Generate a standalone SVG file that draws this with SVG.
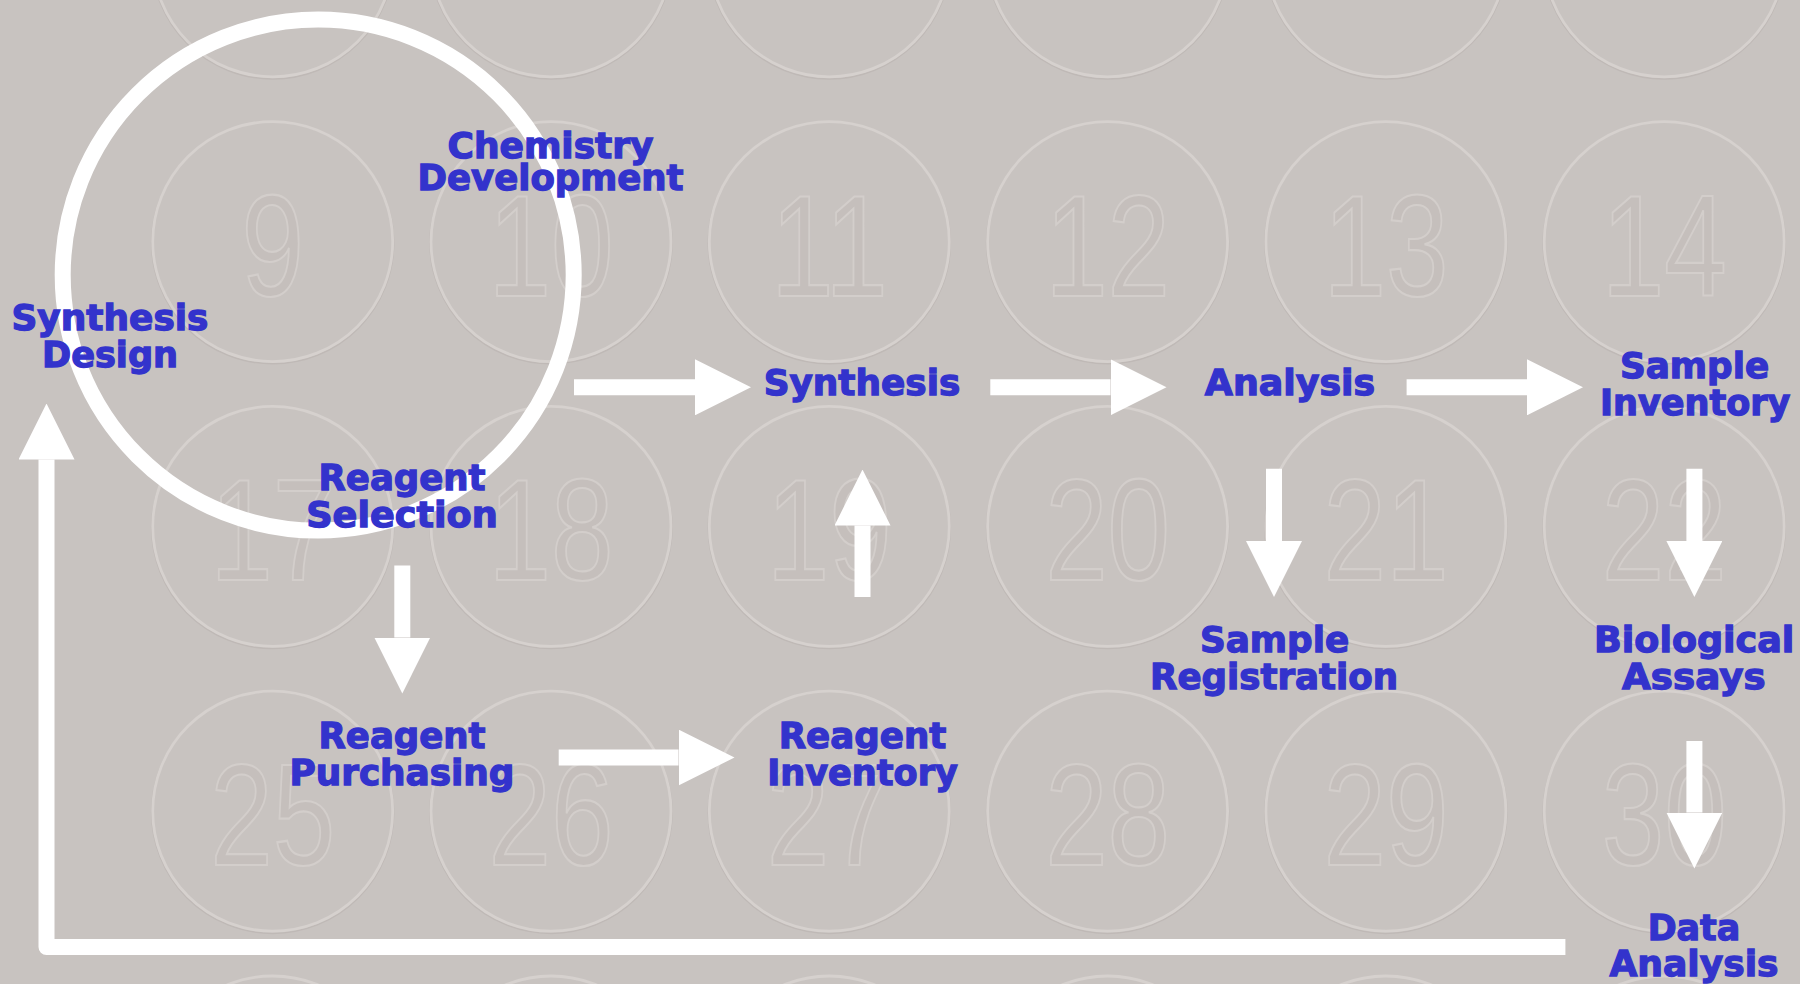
<svg xmlns="http://www.w3.org/2000/svg" width="1800" height="984" viewBox="0 0 1800 984">
  <defs>
    <style>
      .bgc { fill: none; stroke: #d6d1ce; stroke-width: 2.8; }
      .bgs { fill: none; stroke: #bfb9b6; stroke-width: 1.5; }
      .num { font-family: "Liberation Sans", Arial, sans-serif; font-size: 144px; fill: #c5bfbc; stroke: #d3cecb; stroke-width: 2.2; text-anchor: middle; }
      .lbl { font-family: "DejaVu Sans", "Liberation Sans", sans-serif; font-weight: bold; font-size: 36px; fill: #3333cc; stroke: #3333cc; stroke-width: 1.3; text-anchor: middle; }
      .conn { fill: none; stroke: #ffffff; stroke-width: 16; }
      .ring { fill: none; stroke: #ffffff; stroke-width: 16; }
    </style>
    <marker id="head" markerUnits="userSpaceOnUse" viewBox="0 0 56 56" refX="0" refY="28" markerWidth="56" markerHeight="56" orient="auto">
      <path d="M0,0 L56,28 L0,56 Z" fill="#ffffff"/>
    </marker>
  </defs>

  <rect x="0" y="0" width="1800" height="984" fill="#c8c3c0"/>

  <g id="plate-background">
    <g id="plate-wells">
      <circle class="bgs" cx="272.7" cy="-42" r="121"/><circle class="bgc" cx="272.7" cy="-43.2" r="120"/>
      <circle class="bgs" cx="551" cy="-42" r="121"/><circle class="bgc" cx="551" cy="-43.2" r="120"/>
      <circle class="bgs" cx="829.3" cy="-42" r="121"/><circle class="bgc" cx="829.3" cy="-43.2" r="120"/>
      <circle class="bgs" cx="1107.6" cy="-42" r="121"/><circle class="bgc" cx="1107.6" cy="-43.2" r="120"/>
      <circle class="bgs" cx="1385.9" cy="-42" r="121"/><circle class="bgc" cx="1385.9" cy="-43.2" r="120"/>
      <circle class="bgs" cx="1664.2" cy="-42" r="121"/><circle class="bgc" cx="1664.2" cy="-43.2" r="120"/>

      <circle class="bgs" cx="272.7" cy="242.8" r="121"/><circle class="bgc" cx="272.7" cy="241.6" r="120"/>
      <circle class="bgs" cx="551" cy="242.8" r="121"/><circle class="bgc" cx="551" cy="241.6" r="120"/>
      <circle class="bgs" cx="829.3" cy="242.8" r="121"/><circle class="bgc" cx="829.3" cy="241.6" r="120"/>
      <circle class="bgs" cx="1107.6" cy="242.8" r="121"/><circle class="bgc" cx="1107.6" cy="241.6" r="120"/>
      <circle class="bgs" cx="1385.9" cy="242.8" r="121"/><circle class="bgc" cx="1385.9" cy="241.6" r="120"/>
      <circle class="bgs" cx="1664.2" cy="242.8" r="121"/><circle class="bgc" cx="1664.2" cy="241.6" r="120"/>

      <circle class="bgs" cx="272.7" cy="527.6" r="121"/><circle class="bgc" cx="272.7" cy="526.4" r="120"/>
      <circle class="bgs" cx="551" cy="527.6" r="121"/><circle class="bgc" cx="551" cy="526.4" r="120"/>
      <circle class="bgs" cx="829.3" cy="527.6" r="121"/><circle class="bgc" cx="829.3" cy="526.4" r="120"/>
      <circle class="bgs" cx="1107.6" cy="527.6" r="121"/><circle class="bgc" cx="1107.6" cy="526.4" r="120"/>
      <circle class="bgs" cx="1385.9" cy="527.6" r="121"/><circle class="bgc" cx="1385.9" cy="526.4" r="120"/>
      <circle class="bgs" cx="1664.2" cy="527.6" r="121"/><circle class="bgc" cx="1664.2" cy="526.4" r="120"/>

      <circle class="bgs" cx="272.7" cy="812.4" r="121"/><circle class="bgc" cx="272.7" cy="811.2" r="120"/>
      <circle class="bgs" cx="551" cy="812.4" r="121"/><circle class="bgc" cx="551" cy="811.2" r="120"/>
      <circle class="bgs" cx="829.3" cy="812.4" r="121"/><circle class="bgc" cx="829.3" cy="811.2" r="120"/>
      <circle class="bgs" cx="1107.6" cy="812.4" r="121"/><circle class="bgc" cx="1107.6" cy="811.2" r="120"/>
      <circle class="bgs" cx="1385.9" cy="812.4" r="121"/><circle class="bgc" cx="1385.9" cy="811.2" r="120"/>
      <circle class="bgs" cx="1664.2" cy="812.4" r="121"/><circle class="bgc" cx="1664.2" cy="811.2" r="120"/>

      <circle class="bgc" cx="272.7" cy="1096" r="120"/>
      <circle class="bgc" cx="551" cy="1096" r="120"/>
      <circle class="bgc" cx="829.3" cy="1096" r="120"/>
      <circle class="bgc" cx="1107.6" cy="1096" r="120"/>
      <circle class="bgc" cx="1385.9" cy="1096" r="120"/>
      <circle class="bgc" cx="1664.2" cy="1096" r="120"/>
    </g>
    <g id="plate-numbers">
      <text class="num" transform="matrix(0.78 0 0 1 272.7 296)">9</text>
      <text class="num" transform="matrix(0.78 0 0 1 551 296)">10</text>
      <text class="num" transform="matrix(0.78 0 0 1 829.3 296)">11</text>
      <text class="num" transform="matrix(0.78 0 0 1 1107.6 296)">12</text>
      <text class="num" transform="matrix(0.78 0 0 1 1385.9 296)">13</text>
      <text class="num" transform="matrix(0.78 0 0 1 1664.2 296)">14</text>

      <text class="num" transform="matrix(0.78 0 0 1 272.7 580)">17</text>
      <text class="num" transform="matrix(0.78 0 0 1 551 580)">18</text>
      <text class="num" transform="matrix(0.78 0 0 1 829.3 580)">19</text>
      <text class="num" transform="matrix(0.78 0 0 1 1107.6 580)">20</text>
      <text class="num" transform="matrix(0.78 0 0 1 1385.9 580)">21</text>
      <text class="num" transform="matrix(0.78 0 0 1 1664.2 580)">22</text>

      <text class="num" transform="matrix(0.78 0 0 1 272.7 865)">25</text>
      <text class="num" transform="matrix(0.78 0 0 1 551 865)">26</text>
      <text class="num" transform="matrix(0.78 0 0 1 829.3 865)">27</text>
      <text class="num" transform="matrix(0.78 0 0 1 1107.6 865)">28</text>
      <text class="num" transform="matrix(0.78 0 0 1 1385.9 865)">29</text>
      <text class="num" transform="matrix(0.78 0 0 1 1664.2 865)">30</text>
    </g>
  </g>

  <g id="design-cycle">
    <circle class="ring" cx="318.2" cy="275.1" r="255.5"/>
  </g>

  <g id="connectors">
    <line class="conn" x1="574" y1="387.3" x2="695" y2="387.3" marker-end="url(#head)"/>
    <line class="conn" x1="990.3" y1="387.3" x2="1110.5" y2="387.3" marker-end="url(#head)"/>
    <line class="conn" x1="1406.6" y1="387.3" x2="1527" y2="387.3" marker-end="url(#head)"/>
    <line class="conn" x1="558.7" y1="757.5" x2="678.5" y2="757.5" marker-end="url(#head)"/>
    <line class="conn" x1="402.3" y1="565.5" x2="402.3" y2="637.5" marker-end="url(#head)"/>
    <line class="conn" x1="1274" y1="468.8" x2="1274" y2="541" marker-end="url(#head)"/>
    <line class="conn" x1="1694.4" y1="468.8" x2="1694.4" y2="541" marker-end="url(#head)"/>
    <line class="conn" x1="1694.4" y1="741" x2="1694.4" y2="812.5" marker-end="url(#head)"/>
    <line class="conn" x1="862.5" y1="597" x2="862.5" y2="525.5" marker-end="url(#head)"/>
    <path class="conn" d="M1565.4,947 H46.5 V459.5" stroke-linejoin="round" marker-end="url(#head)"/>
  </g>

  <g id="synthesis-design">
    <text class="lbl" x="110" y="330" textLength="197" lengthAdjust="spacingAndGlyphs">Synthesis</text>
    <text class="lbl" x="110" y="366.6" textLength="136" lengthAdjust="spacingAndGlyphs">Design</text>
  </g>
  <g id="chemistry-development">
    <text class="lbl" x="550.5" y="157.7" textLength="206" lengthAdjust="spacingAndGlyphs">Chemistry</text>
    <text class="lbl" x="550.5" y="190.2" textLength="266" lengthAdjust="spacingAndGlyphs">Development</text>
  </g>
  <g id="reagent-selection">
    <text class="lbl" x="402" y="489.8" textLength="167" lengthAdjust="spacingAndGlyphs">Reagent</text>
    <text class="lbl" x="402" y="527" textLength="191.5" lengthAdjust="spacingAndGlyphs">Selection</text>
  </g>
  <g id="reagent-purchasing">
    <text class="lbl" x="402" y="747.5" textLength="167" lengthAdjust="spacingAndGlyphs">Reagent</text>
    <text class="lbl" x="402" y="784.6" textLength="225" lengthAdjust="spacingAndGlyphs">Purchasing</text>
  </g>
  <g id="reagent-inventory">
    <text class="lbl" x="862.5" y="747.5" textLength="167.6" lengthAdjust="spacingAndGlyphs">Reagent</text>
    <text class="lbl" x="862.5" y="784.6" textLength="190.6" lengthAdjust="spacingAndGlyphs">Inventory</text>
  </g>
  <g id="synthesis">
    <text class="lbl" x="862" y="395.3" textLength="196.7" lengthAdjust="spacingAndGlyphs">Synthesis</text>
  </g>
  <g id="analysis">
    <text class="lbl" x="1290" y="395.3" textLength="170.3" lengthAdjust="spacingAndGlyphs">Analysis</text>
  </g>
  <g id="sample-inventory">
    <text class="lbl" x="1694.6" y="377.7" textLength="149.2" lengthAdjust="spacingAndGlyphs">Sample</text>
    <text class="lbl" x="1695.2" y="415.2" textLength="190.5" lengthAdjust="spacingAndGlyphs">Inventory</text>
  </g>
  <g id="sample-registration">
    <text class="lbl" x="1274.6" y="651.9" textLength="149.2" lengthAdjust="spacingAndGlyphs">Sample</text>
    <text class="lbl" x="1274" y="689" textLength="248" lengthAdjust="spacingAndGlyphs">Registration</text>
  </g>
  <g id="biological-assays">
    <text class="lbl" x="1694.2" y="651.9" textLength="200.3" lengthAdjust="spacingAndGlyphs">Biological</text>
    <text class="lbl" x="1693.8" y="689" textLength="143.6" lengthAdjust="spacingAndGlyphs">Assays</text>
  </g>
  <g id="data-analysis">
    <text class="lbl" x="1694" y="939.6" textLength="92.6" lengthAdjust="spacingAndGlyphs">Data</text>
    <text class="lbl" x="1694" y="976.4" textLength="169.1" lengthAdjust="spacingAndGlyphs">Analysis</text>
  </g>
</svg>
